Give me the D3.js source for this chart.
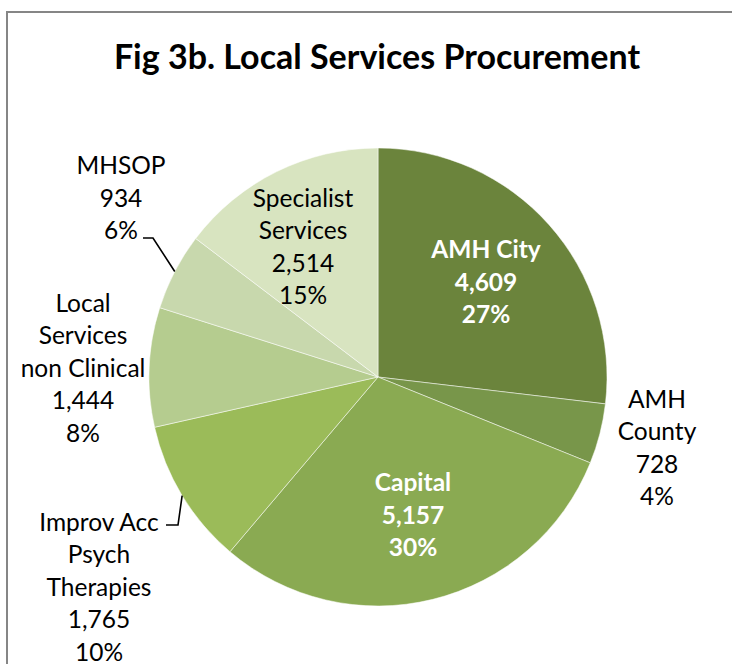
<!DOCTYPE html>
<html>
<head>
<meta charset="utf-8">
<script src="https://cdn.jsdelivr.net/npm/d3@7"></script>
<style>
  body { margin: 0; background: #fff; }
  svg text { font-family: Lato, "Open Sans", sans-serif; }
</style>
</head>
<body>
<div id="chart"></div>
<script>
const categories = ['AMH City', 'AMH County', 'Capital', 'Improv Acc Psych Therapies',
  'Local Services non Clinical', 'MHSOP', 'Specialist Services'];
const values = [4609, 728, 5157, 1765, 1444, 934, 2514];
const percents = [27, 4, 30, 10, 8, 6, 15];
const labelNames = [['AMH City'], ['AMH', 'County'], ['Capital'], ['Improv Acc', 'Psych', 'Therapies'],
  ['Local', 'Services', 'non Clinical'], ['MHSOP'], ['Specialist', 'Services']];

const colors = ['#6b843c', '#78964a', '#8aaa52', '#9bbb59', '#b5cc8f', '#c8d8ad', '#d8e4c0'];
// label block centres, and whether label sits inside the slice (bold white)
const labelLayout = [
  {x: 486, y: 281, inside: true},
  {x: 657, y: 447},
  {x: 413, y: 514, inside: true},
  {x: 99, y: 586, leader: [[178, 525], [166, 525]]},
  {x: 83, y: 367},
  {x: 121, y: 197, leader: [[153, 238], [143, 238]]},
  {x: 303, y: 246}
];

const width = 732, height = 664;
const cx = 378, cy = 377, radius = 229;
const lineH = 32.5;

const svg = d3.select('#chart').append('svg')
  .attr('width', width).attr('height', height);

svg.append('rect')
  .attr('x', 7).attr('y', 12)
  .attr('width', width + 20).attr('height', height + 20)
  .attr('fill', '#fff')
  .attr('stroke', '#868686')
  .attr('stroke-width', 2);

svg.append('text')
  .attr('x', 377).attr('y', 69)
  .attr('text-anchor', 'middle')
  .attr('font-weight', 'bold')
  .attr('font-size', '34px')
  .attr('fill', '#000')
  .text('Fig 3b. Local Services Procurement');

const data = categories.map((c, i) => ({name: c, value: values[i], pct: percents[i], i: i}));

const pie = d3.pie().value(d => d.value).sort(null);
const arcs = pie(data);

const arc = d3.arc().innerRadius(0).outerRadius(radius);
const edge = d3.arc().innerRadius(radius).outerRadius(radius);

const g = svg.append('g').attr('transform', 'translate(' + cx + ',' + cy + ')');

g.selectAll('.slice')
  .data(arcs)
  .enter()
  .append('path')
  .attr('class', 'slice')
  .attr('d', arc)
  .attr('fill', d => colors[d.index])
  .attr('stroke', 'rgba(255,255,255,0.5)')
  .attr('stroke-width', 1);

const fmt = d3.format(',');

// leader lines
arcs.forEach(d => {
  const lay = labelLayout[d.index];
  if (!lay.leader) return;
  const p = edge.centroid(d);
  const pts = [[p[0] + cx, p[1] + cy]].concat(lay.leader);
  svg.append('path')
    .attr('d', d3.line()(pts))
    .attr('fill', 'none')
    .attr('stroke', '#000')
    .attr('stroke-width', 1.6);
});

// labels
arcs.forEach(d => {
  const lay = labelLayout[d.index];
  const lines = labelNames[d.index].concat([fmt(d.data.value), d.data.pct + '%']);
  const top = lay.y - (lines.length - 1) * lineH / 2;
  const t = svg.append('text')
    .attr('text-anchor', 'middle')
    .attr('font-size', '24.5px')
    .attr('font-weight', lay.inside ? 'bold' : 'normal')
    .attr('fill', lay.inside ? '#fff' : '#000');
  lines.forEach((ln, k) => {
    t.append('tspan')
      .attr('x', lay.x)
      .attr('y', top + k * lineH)
      .attr('dominant-baseline', 'central')
      .text(ln);
  });
});
</script>
</body>
</html>
